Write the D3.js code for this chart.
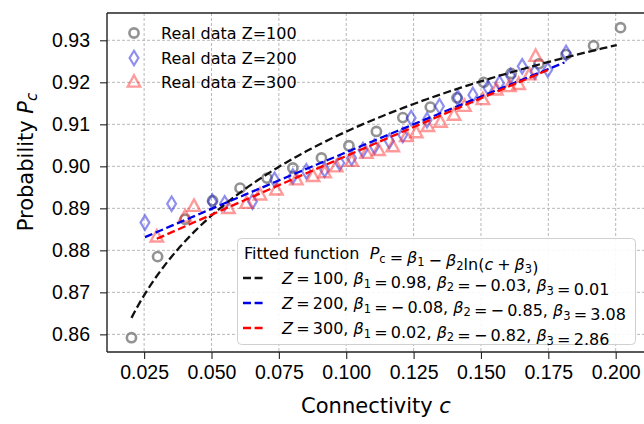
<!DOCTYPE html>
<html><head><meta charset="utf-8">
<script src="https://cdn.jsdelivr.net/npm/d3@7"></script>
<style>
body{margin:0;background:#fff;}
svg{display:block;}
text{font-family:"DejaVu Sans",sans-serif;}
.tick text{font-family:"Liberation Sans",Arial,sans-serif;}
</style></head>
<body><svg id="chart" width="644" height="424"></svg>
<script>
// ---- data ----
const xTicks = [0.025,0.050,0.075,0.100,0.125,0.150,0.175,0.200];
const yTicks = [0.86,0.87,0.88,0.89,0.90,0.91,0.92,0.93];

const z100C = [0.0203,0.0300,0.0402,0.0504,0.0606,0.0706,0.0802,0.0908,0.1010,0.1112,0.1210,0.1312,0.1411,0.1510,0.1612,0.1715,0.1816,0.1918,0.2018];
const z100P = [0.8592,0.8785,0.8874,0.8918,0.8948,0.8972,0.8996,0.9020,0.9049,0.9083,0.9116,0.9141,0.9163,0.9200,0.9221,0.9244,0.9266,0.9287,0.9330];

const z200C = [0.0253,0.0352,0.0503,0.0549,0.0652,0.0734,0.0802,0.0852,0.0920,0.0976,0.1020,0.1062,0.1105,0.1160,0.1210,0.1241,0.1300,0.1346,0.1414,0.1470,0.1526,0.1569,0.1610,0.1653,0.1700,0.1748,0.1816];
const z200P = [0.8866,0.8911,0.8916,0.8912,0.8916,0.8968,0.8976,0.8988,0.8992,0.9008,0.9020,0.9039,0.9047,0.9060,0.9075,0.9115,0.9110,0.9143,0.9163,0.9170,0.9187,0.9198,0.9215,0.9238,0.9225,0.9230,0.9270];

const z300C = [0.0297,0.0402,0.0435,0.0563,0.0630,0.0680,0.0741,0.0815,0.0877,0.0920,0.0963,0.1020,0.1075,0.1120,0.1173,0.1223,0.1260,0.1303,0.1350,0.1400,0.1439,0.1507,0.1557,0.1606,0.1640,0.1680,0.1703];
const z300P = [0.8832,0.8880,0.8905,0.8900,0.8912,0.8932,0.8944,0.8968,0.8976,0.8985,0.8999,0.9012,0.9031,0.9038,0.9047,0.9071,0.9080,0.9095,0.9105,0.9122,0.9143,0.9159,0.9182,0.9190,0.9195,0.9218,0.9262];

// fitted curves P = b1 - b2*ln(c + b3) (curve parameters as drawn)
const fitNames = ["Z=100","Z=200","Z=300"];
const fitB1 = [0.9773,-0.08,0.0126];
const fitB2 = [-0.0305,-0.85,-0.82];
const fitB3 = [0.004,3.08,2.86];
const fitCMin = [0.0203,0.0253,0.0297];
const fitCMax = [0.2004,0.1810,0.1748];
// legend labels
const fitLabelZ = ["100","200","300"];
const fitLabelB1 = ["0.98","\u22120.08","0.02"];
const fitLabelB2 = ["\u22120.03","\u22120.85","\u22120.82"];
const fitLabelB3 = ["0.01","3.08","2.86"];
const fitColors = ["#111111","#0000e6","#ff0000"];

// ---- layout ----
const L=107,R=645,T=13,B=352;
const svg = d3.select("#chart");
const x = d3.scaleLinear().domain([0.01122,0.21088]).range([L,R]);
const y = d3.scaleLinear().domain([0.8558,0.9365]).range([B,T]);

// grid
const g = svg.append("g");
g.selectAll(".gx").data(xTicks).enter().append("line")
  .attr("x1",d=>x(d)).attr("x2",d=>x(d)).attr("y1",T).attr("y2",B)
  .attr("stroke","#b0b0b0").attr("stroke-width",0.9).attr("stroke-dasharray","3,2");
g.selectAll(".gy").data(yTicks).enter().append("line")
  .attr("x1",L).attr("x2",R).attr("y1",d=>y(d)).attr("y2",d=>y(d))
  .attr("stroke","#b0b0b0").attr("stroke-width",0.9).attr("stroke-dasharray","3,2");

// markers
const mk = svg.append("g");
mk.selectAll(".c1").data(d3.range(z100C.length)).enter().append("circle")
  .attr("cx",i=>x(z100C[i])).attr("cy",i=>y(z100P[i])).attr("r",4.6)
  .attr("fill","none").attr("stroke","#808080").attr("stroke-opacity",0.85).attr("stroke-width",2.6);
const diamond = "M0,-7.2L4.4,0L0,7.2L-4.4,0Z";
mk.selectAll(".c2").data(d3.range(z200C.length)).enter().append("path")
  .attr("d",diamond).attr("transform",i=>`translate(${x(z200C[i])},${y(z200P[i])})`)
  .attr("fill","none").attr("stroke","#2020e0").attr("stroke-opacity",0.5).attr("stroke-width",2.2);
const tri = "M0,-6.8L6.2,4.6L-6.2,4.6Z";
mk.selectAll(".c3").data(d3.range(z300C.length)).enter().append("path")
  .attr("d",tri).attr("transform",i=>`translate(${x(z300C[i])},${y(z300P[i])})`)
  .attr("fill","none").attr("stroke","#ff2020").attr("stroke-opacity",0.45).attr("stroke-width",2.4);

// fitted lines
const line = d3.line().x(d=>x(d[0])).y(d=>y(d[1]));
fitNames.forEach((n,k)=>{
  const pts = d3.range(0,101).map(j=>{
    const c = fitCMin[k] + (fitCMax[k]-fitCMin[k])*j/100;
    return [c, fitB1[k] - fitB2[k]*Math.log(c+fitB3[k])];
  });
  svg.append("path").datum(pts).attr("d",line).attr("fill","none")
    .attr("stroke",fitColors[k]).attr("stroke-width",2.3).attr("stroke-dasharray","8,3.6");
});

// axes
const ax = svg.append("g").attr("transform",`translate(0,${B})`)
  .call(d3.axisBottom(x).tickValues(xTicks).tickFormat(d3.format(".3f")).tickSize(7).tickPadding(6));
const ay = svg.append("g").attr("transform",`translate(${L},0)`)
  .call(d3.axisLeft(y).tickValues(yTicks).tickFormat(d3.format(".2f")).tickSize(7).tickPadding(10));
[ax,ay].forEach(a=>{
  a.select(".domain").remove();
  a.selectAll(".tick line").attr("stroke","#222").attr("stroke-width",1.1);
  a.selectAll(".tick text").attr("font-size","19.5px").attr("fill","#000");
});
// spines
svg.append("line").attr("x1",L).attr("x2",R).attr("y1",B).attr("y2",B).attr("stroke","#222").attr("stroke-width",1.4);
svg.append("line").attr("x1",L).attr("x2",R).attr("y1",T).attr("y2",T).attr("stroke","#222").attr("stroke-width",1.4);
svg.append("line").attr("x1",L).attr("x2",L).attr("y1",T).attr("y2",B).attr("stroke","#222").attr("stroke-width",1.4);

// axis labels
const xl = svg.append("text").attr("x",(L+R)/2).attr("y",413).attr("text-anchor","middle").attr("font-size","21px");
xl.append("tspan").text("Connectivity ");
xl.append("tspan").attr("font-style","italic").text("c");
const yl = svg.append("text").attr("transform","translate(33,162) rotate(-90)").attr("text-anchor","middle").attr("font-size","21px");
yl.append("tspan").text("Probability ");
yl.append("tspan").attr("font-style","italic").text("P");
yl.append("tspan").attr("font-style","italic").attr("font-size","15px").attr("dy",4).text("c");

// legend 1
const leg1 = svg.append("g");
const l1y = [33,58,82];
const l1t = ["Real data Z=100","Real data Z=200","Real data Z=300"];
leg1.append("circle").attr("cx",134).attr("cy",l1y[0]).attr("r",4.6).attr("fill","none").attr("stroke","#808080").attr("stroke-opacity",0.85).attr("stroke-width",2.6);
leg1.append("path").attr("d",diamond).attr("transform",`translate(134,${l1y[1]})`).attr("fill","none").attr("stroke","#2020e0").attr("stroke-opacity",0.5).attr("stroke-width",2.2);
leg1.append("path").attr("d",tri).attr("transform",`translate(134,${l1y[2]})`).attr("fill","none").attr("stroke","#ff2020").attr("stroke-opacity",0.45).attr("stroke-width",2.4);
leg1.selectAll(".t").data(l1t).enter().append("text").attr("x",161).attr("y",(d,i)=>l1y[i]+6).attr("font-size","16px").text(d=>d);

// legend 2
const leg2 = svg.append("g");
leg2.append("rect").attr("x",237.5).attr("y",238.5).attr("width",398).attr("height",106).attr("rx",4)
  .attr("fill","#fff").attr("fill-opacity",0.9).attr("stroke","#d0d0d0").attr("stroke-width",1);
function sub(t, s){ t.append("tspan").attr("font-size","11.5px").attr("dy",3.5).text(s); t.append("tspan").attr("dy",-3.5).text(""); }
function it(t, s){ t.append("tspan").attr("font-style","italic").text(s); }
function rm(t, s){ t.append("tspan").text(s); }
const TS = "\u2009";
const MS = "\u2005";
const tt = leg2.append("text").attr("x",244).attr("y",259).attr("font-size","16px").attr("xml:space","preserve");
rm(tt,"Fitted function  "); it(tt,"P"); sub(tt,"c"); rm(tt,MS+"="+MS); it(tt,"\u03b2"); sub(tt,"1"); rm(tt,MS+"\u2212"+MS); it(tt,"\u03b2"); sub(tt,"2");
rm(tt,"ln("); it(tt,"c"); rm(tt,MS+"+"+MS); it(tt,"\u03b2"); sub(tt,"3"); rm(tt,")");
const rowY=[278,303,328];
const fmtNeg = s => s.replace("\u2212","\u2212"+TS);
fitNames.forEach((n,k)=>{
  leg2.append("line").attr("x1",243).attr("x2",266).attr("y1",rowY[k]).attr("y2",rowY[k])
    .attr("stroke",fitColors[k]).attr("stroke-width",2.3).attr("stroke-dasharray","8,3.6");
  const t = leg2.append("text").attr("x",282).attr("y",rowY[k]+6).attr("font-size","16px").attr("xml:space","preserve");
  it(t,"Z"); rm(t,TS+"="+TS+fitLabelZ[k]+", "); it(t,"\u03b2"); sub(t,"1"); rm(t,TS+"="+TS+fmtNeg(fitLabelB1[k])+", ");
  it(t,"\u03b2"); sub(t,"2"); rm(t,TS+"="+TS+fmtNeg(fitLabelB2[k])+", ");
  it(t,"\u03b2"); sub(t,"3"); rm(t,TS+"="+TS+fitLabelB3[k]);
});
</script></body></html>
